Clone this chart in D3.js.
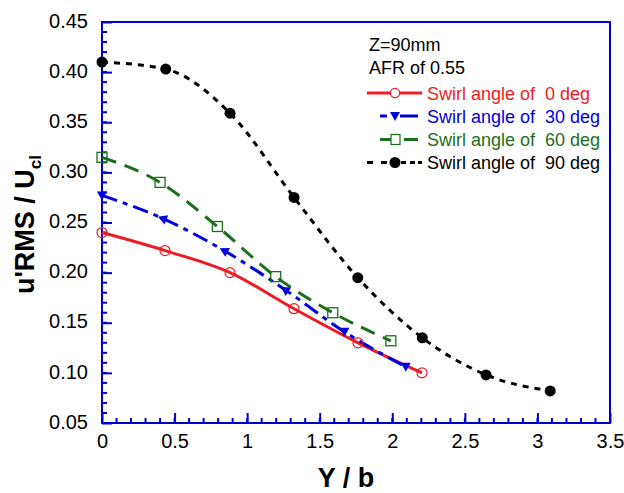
<!DOCTYPE html>
<html>
<head>
<meta charset="utf-8">
<script src="https://cdn.jsdelivr.net/npm/d3@7"></script>
<style>
  html, body { margin: 0; padding: 0; background: #fff; }
  svg { display: block; }
  text { font-family: "Liberation Sans", Arial, sans-serif; }
</style>
</head>
<body>
<svg id="chart" width="624" height="493"></svg>
<script>
// ---- data ----
const xTickLabels = ["0", "0.5", "1", "1.5", "2", "2.5", "3", "3.5"];
const yTickLabels = ["0.05", "0.10", "0.15", "0.20", "0.25", "0.30", "0.35", "0.40", "0.45"];

const seriesNames = ["Swirl angle of  0 deg", "Swirl angle of  30 deg", "Swirl angle of  60 deg", "Swirl angle of  90 deg"];

const x0  = [0, 0.434, 0.882, 1.323, 1.764, 2.205];
const y0  = [0.240, 0.222, 0.200, 0.164, 0.130, 0.100];

const x30 = [0, 0.418, 0.841, 1.261, 1.670, 2.093];
const y30 = [0.277, 0.254, 0.222, 0.183, 0.141, 0.106];

const x60 = [0, 0.400, 0.795, 1.197, 1.590, 1.990];
const y60 = [0.315, 0.290, 0.246, 0.196, 0.160, 0.132];

const x90 = [0, 0.439, 0.882, 1.323, 1.762, 2.207, 2.646, 3.088];
const y90 = [0.410, 0.403, 0.359, 0.275, 0.195, 0.135, 0.098, 0.082];

const noteLines = ["Z=90mm", "AFR of 0.55"];

// ---- layout ----
const W = 624, H = 493;
const m = { left: 102, top: 22, right: 14, bottom: 70 };
const iw = W - m.left - m.right, ih = H - m.top - m.bottom;

const AXIS = "#0000cc";
const RED = "#ee1c24", BLUE = "#0000dd", GREEN = "#1c6e1c", BLACK = "#000000";

const svg = d3.select("#chart");
const g = svg.append("g").attr("transform", `translate(${m.left},${m.top})`);

const x = d3.scaleLinear().domain([0, 3.5]).range([0, iw]);
const y = d3.scaleLinear().domain([0.05, 0.45]).range([ih, 0]);

// minor ticks
const xMinor = d3.range(0, 3.5001, 0.1).map(v => +v.toFixed(2));
const yMinor = d3.range(0.05, 0.45001, 0.01).map(v => +v.toFixed(3));

g.selectAll(".xminor").data(xMinor).enter().append("line")
  .attr("x1", d => x(d)).attr("x2", d => x(d))
  .attr("y1", ih).attr("y2", ih - 5)
  .attr("stroke", AXIS).attr("stroke-width", 2);
g.selectAll(".yminor").data(yMinor).enter().append("line")
  .attr("x1", 0).attr("x2", 5)
  .attr("y1", d => y(d)).attr("y2", d => y(d))
  .attr("stroke", AXIS).attr("stroke-width", 2);

// major axes via d3 axes
const xAxis = d3.axisBottom(x)
  .tickValues(xTickLabels.map(Number))
  .tickFormat((d, i) => xTickLabels[i])
  .tickSizeInner(-10).tickSizeOuter(0).tickPadding(14);
const yAxis = d3.axisLeft(y)
  .tickValues(yTickLabels.map(Number))
  .tickFormat((d, i) => yTickLabels[i])
  .tickSizeInner(-10).tickSizeOuter(0).tickPadding(14);

const gx = g.append("g").attr("transform", `translate(0,${ih})`).call(xAxis);
const gy = g.append("g").call(yAxis);
[gx, gy].forEach(a => {
  a.select(".domain").remove();
  a.selectAll(".tick line").attr("stroke", AXIS).attr("stroke-width", 2);
  a.selectAll(".tick text").attr("fill", "#000").style("font-size", "20px")
    .style("font-family", "'Liberation Sans', Arial, sans-serif");
});
gx.selectAll(".tick text").attr("dy", "0.71em").attr("y", 11);
gy.selectAll(".tick text").attr("dy", "0.26em");

// frame
g.append("rect").attr("x", 0).attr("y", 0).attr("width", iw).attr("height", ih)
  .attr("fill", "none").attr("stroke", AXIS).attr("stroke-width", 2);

// axis titles
svg.append("text")
  .attr("x", m.left + iw / 2 - 10).attr("y", 487)
  .attr("text-anchor", "middle")
  .style("font-size", "27px").style("font-weight", "bold")
  .text("Y / b");

const yt = svg.append("text")
  .attr("transform", `translate(34,${m.top + ih / 2 + 2}) rotate(-90)`)
  .attr("text-anchor", "middle")
  .style("font-size", "27px").style("font-weight", "bold");
yt.append("tspan").text("u'RMS / U");
yt.append("tspan").attr("dy", 7).style("font-size", "17px").text("cl");

// ---- series ----
const line = d3.line().x(d => x(d[0])).y(d => y(d[1])).curve(d3.curveMonotoneX);
const zip = (a, b) => a.map((v, i) => [v, b[i]]);

const series = [
  { name: seriesNames[0], pts: zip(x0, y0),   color: RED,   dash: null,        width: 3,   marker: "circleOpen" },
  { name: seriesNames[1], pts: zip(x30, y30), color: BLUE,  dash: "16,6,5,6",  width: 3,   marker: "triangle" },
  { name: seriesNames[2], pts: zip(x60, y60), color: GREEN, dash: "15,9",      width: 3,   marker: "square" },
  { name: seriesNames[3], pts: zip(x90, y90), color: BLACK, dash: "6,6",       width: 3,   marker: "circleFilled" }
];

const triPath = "M-5,-4L5,-4L0,5Z";
const backPointing = new Set([1, 2, 3]);

function drawMarker(sel, s, px, py, angle) {
  if (s.marker === "circleOpen") {
    sel.append("circle").attr("cx", px).attr("cy", py).attr("r", 5)
      .attr("fill", "none").attr("stroke", s.color).attr("stroke-width", 1.2);
  } else if (s.marker === "circleFilled") {
    sel.append("circle").attr("cx", px).attr("cy", py).attr("r", 5.5)
      .attr("fill", s.color);
  } else if (s.marker === "square") {
    sel.append("rect").attr("x", px - 5).attr("y", py - 5).attr("width", 10).attr("height", 10)
      .attr("fill", "none").attr("stroke", s.color).attr("stroke-width", 1.3);
  } else if (s.marker === "triangle") {
    sel.append("path").attr("d", triPath)
      .attr("transform", `translate(${px},${py}) rotate(${angle || 0})`)
      .attr("fill", s.color);
  }
}

series.forEach(s => {
  g.append("path").datum(s.pts).attr("d", line)
    .attr("fill", "none").attr("stroke", s.color).attr("stroke-width", s.width)
    .attr("stroke-dasharray", s.dash);
});
series.forEach(s => {
  const mg = g.append("g");
  s.pts.forEach((p, i) => {
    let ang = 0;
    if (s.marker === "triangle" && backPointing.has(i)) {
      const q = s.pts[i - 1];
      const dx = x(q[0]) - x(p[0]), dy = y(q[1]) - y(p[1]);
      ang = Math.atan2(dy, dx) * 180 / Math.PI - 90;
    }
    drawMarker(mg, s, x(p[0]), y(p[1]), ang);
  });
});

// ---- legend ----
const lg = svg.append("g");
noteLines.forEach((t, i) => {
  lg.append("text").attr("x", 369).attr("y", 51 + i * 22.5)
    .style("font-size", "18px").attr("fill", "#000").text(t);
});
const legY = [93, 116, 139.5, 162.5];
const segs = [
  [[367, 422]],
  [[380, 387], [400, 418]],
  [[380, 391], [404, 418]],
  [[367, 373], [381, 387], [401, 406], [410, 415], [418, 422]]
];
series.forEach((s, i) => {
  const ly = legY[i];
  segs[i].forEach(sg => {
    lg.append("line").attr("x1", sg[0]).attr("x2", sg[1]).attr("y1", ly).attr("y2", ly)
      .attr("stroke", s.color).attr("stroke-width", 3);
  });
  if (s.marker === "circleOpen") {
    lg.append("circle").attr("cx", 395).attr("cy", ly).attr("r", 4.7)
      .attr("fill", "#fff").attr("stroke", s.color).attr("stroke-width", 1.2);
  } else if (s.marker === "square") {
    lg.append("rect").attr("x", 391).attr("y", ly - 5).attr("width", 9).attr("height", 10)
      .attr("fill", "#fff").attr("stroke", s.color).attr("stroke-width", 1.2);
  } else {
    drawMarker(lg, s, 395, ly, 0);
  }
  lg.append("text").attr("x", 427).attr("y", ly + 6.5)
    .style("font-size", "18px").style("white-space", "pre")
    .attr("fill", s.color).text(s.name);
});
</script>
</body>
</html>
